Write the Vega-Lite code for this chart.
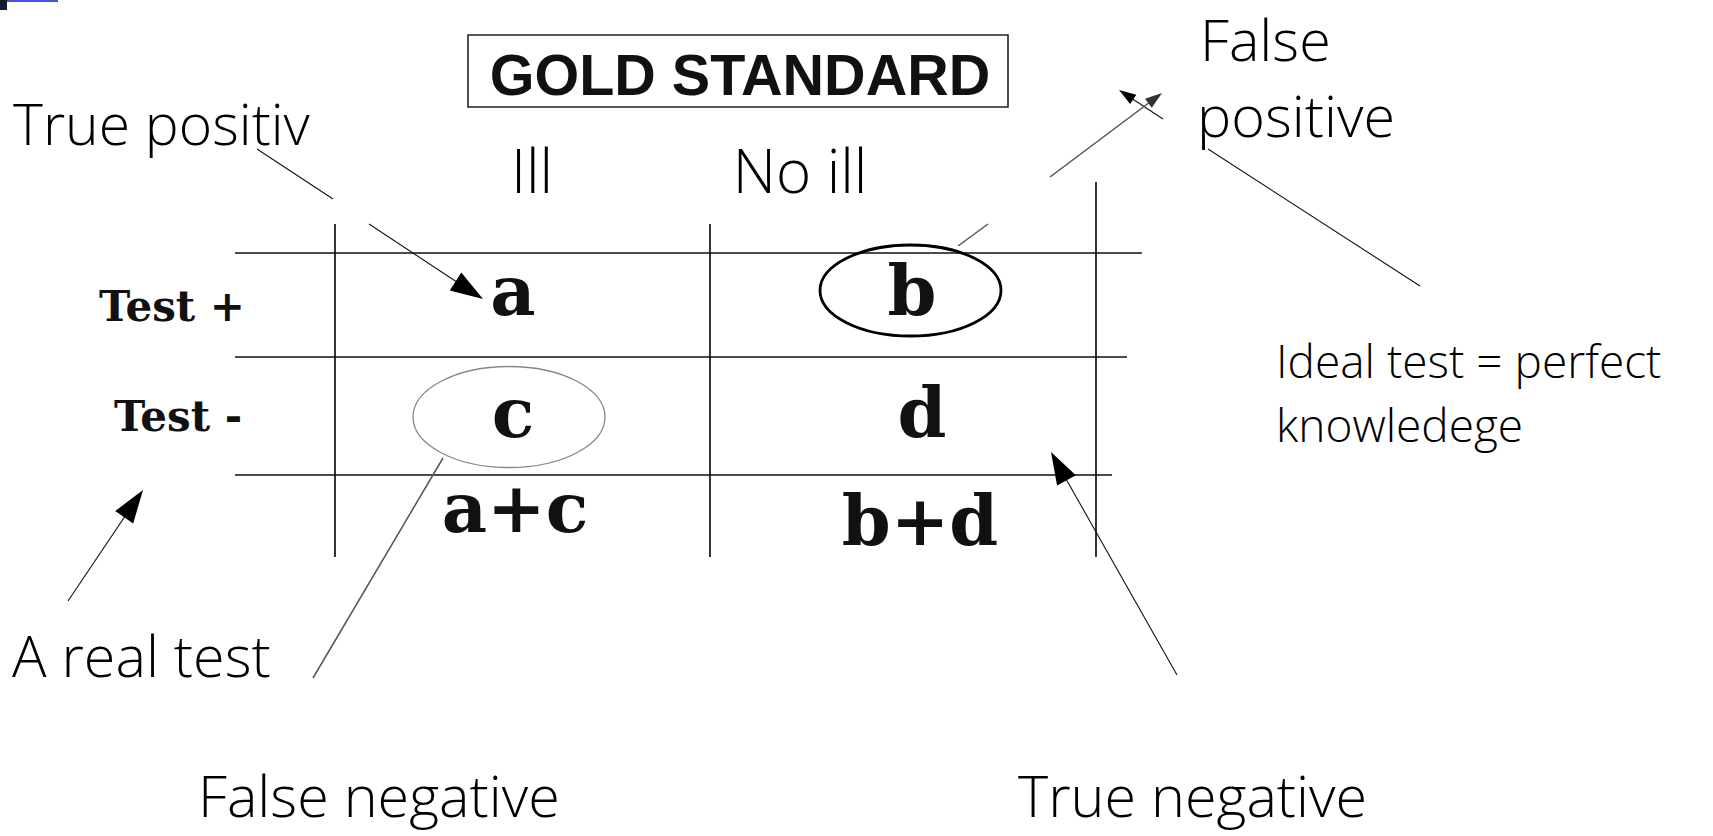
{
  "$schema": "https://vega.github.io/schema/vega-lite/v6.json",
  "width": 1713,
  "height": 836,
  "autosize": "none",
  "padding": 0,
  "background": "white",
  "config": {"view": {"stroke": null}},
  "encoding": {
    "x": {"field": "x", "type": "quantitative", "scale": {"domain": [0, 1713], "nice": false, "zero": false}, "axis": null},
    "y": {"field": "y", "type": "quantitative", "scale": {"domain": [0, 836], "nice": false, "zero": false, "reverse": true}, "axis": null}
  },
  "layer": [
    {
      "data": {"values": [{"x": 0, "y": 0, "x2": 7, "y2": 10}]},
      "mark": {"type": "rect", "color": "#1a1a2e"},
      "encoding": {"x2": {"field": "x2"}, "y2": {"field": "y2"}}
    },
    {
      "data": {"values": [{"x": 7, "y": 0, "x2": 58, "y2": 2}]},
      "mark": {"type": "rect", "color": "#4455dd"},
      "encoding": {"x2": {"field": "x2"}, "y2": {"field": "y2"}}
    },
    {
      "data": {"values": [{"x": 468, "y": 35, "x2": 1008, "y2": 107}]},
      "mark": {"type": "rect", "filled": false, "stroke": "#222222", "strokeWidth": 1.6, "fill": null},
      "encoding": {"x2": {"field": "x2"}, "y2": {"field": "y2"}}
    },
    {
      "data": {"values": [
        {"x": 235, "y": 253, "x2": 1142, "y2": 253},
        {"x": 235, "y": 357, "x2": 1127, "y2": 357},
        {"x": 235, "y": 475, "x2": 1112, "y2": 475},
        {"x": 335, "y": 224, "x2": 335, "y2": 557},
        {"x": 710, "y": 224, "x2": 710, "y2": 557},
        {"x": 1096, "y": 182, "x2": 1096, "y2": 557}
      ]},
      "mark": {"type": "rule", "color": "#111111", "strokeWidth": 1.7},
      "encoding": {"x2": {"field": "x2"}, "y2": {"field": "y2"}}
    },
    {
      "data": {"values": [
        {"x": 257, "y": 149, "x2": 333, "y2": 199},
        {"x": 369, "y": 224, "x2": 478, "y2": 296},
        {"x": 1208, "y": 149, "x2": 1420, "y2": 286},
        {"x": 1163, "y": 119, "x2": 1122, "y2": 92},
        {"x": 68, "y": 601, "x2": 140, "y2": 494},
        {"x": 1177, "y": 675, "x2": 1053, "y2": 456}
      ]},
      "mark": {"type": "rule", "color": "#111111", "strokeWidth": 1.1},
      "encoding": {"x2": {"field": "x2"}, "y2": {"field": "y2"}}
    },
    {
      "data": {"values": [
        {"x": 958, "y": 246, "x2": 988, "y2": 224},
        {"x": 1050, "y": 177, "x2": 1158, "y2": 96},
        {"x": 443, "y": 458, "x2": 313, "y2": 678}
      ]},
      "mark": {"type": "rule", "color": "#555555", "strokeWidth": 1.5},
      "encoding": {"x2": {"field": "x2"}, "y2": {"field": "y2"}}
    },
    {
      "data": {"values": [{"x": 910.5, "y": 290.5, "s": 32761}]},
      "mark": {"type": "point", "shape": "M-1,0 A1,0.503 0 1,1 1,0 A1,0.503 0 1,1 -1,0 Z", "filled": false, "stroke": "#000000", "strokeWidth": 2.8, "opacity": 1},
      "encoding": {"size": {"field": "s", "type": "quantitative", "scale": null}}
    },
    {
      "data": {"values": [{"x": 509, "y": 417, "s": 36864}]},
      "mark": {"type": "point", "shape": "M-1,0 A1,0.526 0 1,1 1,0 A1,0.526 0 1,1 -1,0 Z", "filled": false, "stroke": "#888888", "strokeWidth": 1.3, "opacity": 1},
      "encoding": {"size": {"field": "s", "type": "quantitative", "scale": null}}
    },
    {
      "data": {"values": [
        {"x": 483, "y": 299, "angle": 122.5, "s": 1060},
        {"x": 143, "y": 490, "angle": 34.6, "s": 1100},
        {"x": 1051, "y": 452, "angle": 331.5, "s": 1050},
        {"x": 1119, "y": 90, "angle": 303.4, "s": 290}
      ]},
      "mark": {"type": "point", "shape": "M0,0 L-0.66,2 L0.66,2 Z", "filled": true, "color": "#000000", "strokeWidth": 0, "opacity": 1},
      "encoding": {
        "size": {"field": "s", "type": "quantitative", "scale": null},
        "angle": {"field": "angle", "type": "quantitative", "scale": null}
      }
    },
    {
      "data": {"values": [
        {"x": 1162, "y": 93, "angle": 53, "s": 290}
      ]},
      "mark": {"type": "point", "shape": "M0,0 L-0.66,2 L0.66,2 Z", "filled": true, "color": "#333333", "strokeWidth": 0, "opacity": 1},
      "encoding": {
        "size": {"field": "s", "type": "quantitative", "scale": null},
        "angle": {"field": "angle", "type": "quantitative", "scale": null}
      }
    },
    {
      "data": {"values": [{"x": 740, "y": 95, "label": "GOLD STANDARD"}]},
      "mark": {"type": "text", "font": "Liberation Sans", "fontWeight": "bold", "fontSize": 57.5, "align": "center", "baseline": "alphabetic", "color": "#111111"},
      "encoding": {"text": {"field": "label"}}
    },
    {
      "data": {"values": [{"x": 13, "y": 145, "label": "True positive"}]},
      "mark": {"type": "text", "font": "Open Sans", "fontWeight": 300, "fontSize": 57, "align": "left", "baseline": "alphabetic", "color": "#000000", "limit": 318, "ellipsis": " "},
      "encoding": {"text": {"field": "label"}}
    },
    {
      "data": {"values": [
        {"x": 1200, "y": 61, "label": "False"},
        {"x": 1197, "y": 137, "label": "positive"},
        {"x": 12, "y": 677, "label": "A real test"},
        {"x": 198, "y": 817, "label": "False negative"},
        {"x": 1018, "y": 817, "label": "True negative"}
      ]},
      "mark": {"type": "text", "font": "Open Sans", "fontWeight": 300, "fontSize": 57.5, "align": "left", "baseline": "alphabetic", "color": "#000000"},
      "encoding": {"text": {"field": "label"}}
    },
    {
      "data": {"values": [
        {"x": 532, "y": 193, "label": "Ill"},
        {"x": 800, "y": 193, "label": "No ill"}
      ]},
      "mark": {"type": "text", "font": "Open Sans", "fontWeight": 300, "fontSize": 60, "align": "center", "baseline": "alphabetic", "color": "#000000"},
      "encoding": {"text": {"field": "label"}}
    },
    {
      "data": {"values": [
        {"x": 1276, "y": 378, "label": "Ideal test  = perfect"},
        {"x": 1276, "y": 442, "label": "knowledege"}
      ]},
      "mark": {"type": "text", "font": "Open Sans", "fontWeight": 300, "fontSize": 46, "align": "left", "baseline": "alphabetic", "color": "#000000"},
      "encoding": {"text": {"field": "label"}}
    },
    {
      "data": {"values": [
        {"x": 172, "y": 321, "label": "Test +"},
        {"x": 178, "y": 431, "label": "Test -"}
      ]},
      "mark": {"type": "text", "font": "DejaVu Serif", "fontWeight": "bold", "fontSize": 42, "align": "center", "baseline": "alphabetic", "color": "#111111"},
      "encoding": {"text": {"field": "label"}}
    },
    {
      "data": {"values": [
        {"x": 513, "y": 315, "label": "a"},
        {"x": 912, "y": 315, "label": "b"},
        {"x": 513, "y": 437, "label": "c"},
        {"x": 922, "y": 437, "label": "d"},
        {"x": 515, "y": 532, "label": "a+c"},
        {"x": 920, "y": 545, "label": "b+d"}
      ]},
      "mark": {"type": "text", "font": "DejaVu Serif", "fontWeight": "bold", "fontSize": 70, "align": "center", "baseline": "alphabetic", "color": "#111111"},
      "encoding": {"text": {"field": "label"}}
    }
  ]
}
